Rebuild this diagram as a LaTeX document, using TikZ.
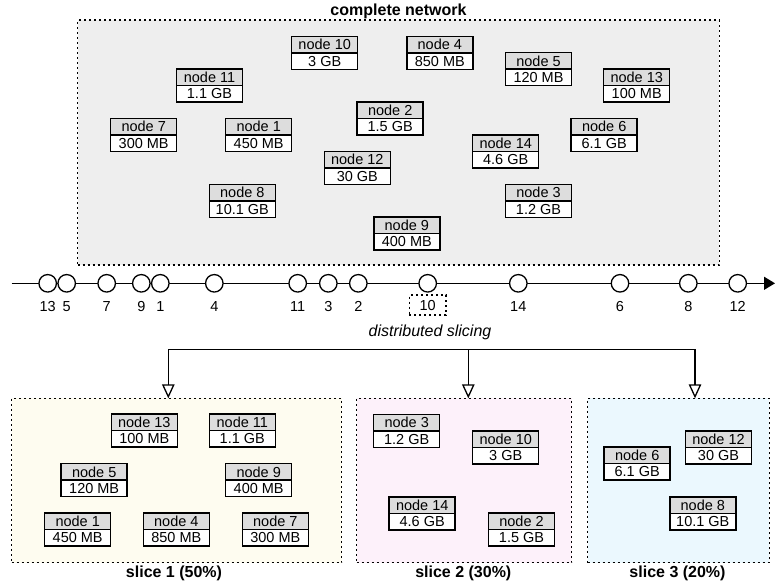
\documentclass[tikz,border=0pt]{standalone}
\usepackage{fontspec}
\setmainfont{Liberation Sans}
\usetikzlibrary{arrows.meta}
\definecolor{netfill}{HTML}{EEEEEE}
\definecolor{sonefill}{HTML}{FEFCF0}
\definecolor{stwofill}{HTML}{FDF1FA}
\definecolor{sthreefill}{HTML}{EBF8FE}
\definecolor{headfill}{HTML}{DDDDDD}
\tikzset{
  nhead/.style={draw, line width=1.5pt, fill=headfill, minimum width=66pt, minimum height=16.5pt, inner sep=0pt, outer sep=0pt, font=\fontsize{14.5}{15}\selectfont, anchor=south},
  nsize/.style={nhead, fill=white, anchor=north},
  region/.style={draw, line width=1.3pt, dash pattern=on 2pt off 3pt, inner sep=0pt, outer sep=0pt, anchor=north west},
  regionlbl/.style={font=\bfseries\fontsize{16}{18}\selectfont, inner sep=0pt},
  tcirc/.style={draw, circle, line width=1.3pt, fill=white, minimum size=17.5pt, inner sep=0pt},
  tnum/.style={font=\fontsize{14.5}{15}\selectfont, inner sep=0pt},
  conn/.style={line width=1.3pt},
  openarrow/.style={conn, -{Triangle[open, length=14pt, width=12.5pt]}},
}
\newcommand\netbox[5]{\node[nhead] (#1) at (#2,#3) {#4}; \node[nsize] (#1s) at (#2,#3) {#5};}
\begin{document}
\begin{tikzpicture}[x=1pt, y=-1pt]
\useasboundingbox (0,0) rectangle (775,587);
% regions
\node[region, fill=netfill, minimum width=641.6pt, minimum height=245pt] (net) at (77.7,20) {};
\node[regionlbl] (netlbl) at (398.5,11) {complete network};
\node[region, fill=sonefill, minimum width=330pt, minimum height=164.4pt] (s1) at (11.7,398.3) {};
\node[region, fill=stwofill, minimum width=215pt, minimum height=164.4pt] (s2) at (356.7,398.3) {};
\node[region, fill=sthreefill, minimum width=181.6pt, minimum height=164.4pt] (s3) at (587.7,398.3) {};
\node[regionlbl] (s1lbl) at (174,573) {slice 1 (50\%)};
\node[regionlbl] (s2lbl) at (463.3,573) {slice 2 (30\%)};
\node[regionlbl] (s3lbl) at (677.5,573) {slice 3 (20\%)};
% complete network nodes
\netbox{net10}{324.7}{52.8}{node 10}{3 GB}
\netbox{net11}{209.5}{85.7}{node 11}{1.1 GB}
\netbox{net7}{143.7}{135}{node 7}{300 MB}
\netbox{net1}{258.7}{135}{node 1}{450 MB}
\netbox{net12}{357.3}{168}{node 12}{30 GB}
\netbox{net8}{242.3}{200.8}{node 8}{10.1 GB}
\netbox{net9}{406.8}{233.7}{node 9}{400 MB}
\netbox{net2}{390.2}{118.5}{node 2}{1.5 GB}
\netbox{net4}{439.8}{52.8}{node 4}{850 MB}
\netbox{net5}{538.5}{69.2}{node 5}{120 MB}
\netbox{net13}{636.7}{85.7}{node 13}{100 MB}
\netbox{net6}{604.2}{135}{node 6}{6.1 GB}
\netbox{net14}{505.7}{151.5}{node 14}{4.6 GB}
\netbox{net3}{538.5}{200.8}{node 3}{1.2 GB}
% timeline
\coordinate (tlstart) at (11.7,283.3);
\coordinate (tlend) at (775,283.3);
\draw[conn, -{Triangle[length=11pt, width=13pt]}] (tlstart) -- (tlend);
\foreach \n/\x in {13/47.7, 5/66.7, 7/106.7, 9/141.3, 1/160.3, 4/214.3, 11/297.7, 3/328.3, 2/358.3, 14/518.3, 6/620, 8/688.3, 12/737.7} {
  \node[tcirc] (t\n) at (\x,283.3) {};
  \node[tnum] (tl\n) at (\x,306.7) {\n};
}
\node[tcirc] (t10) at (427.7,283.3) {};
\node[tnum, draw, line width=1.3pt, dash pattern=on 2pt off 3pt, minimum width=36.7pt, minimum height=20pt] (tl10) at (427.7,305) {10};
\node[font=\itshape\fontsize{16}{18}\selectfont, inner sep=0pt] (ds) at (430,332.7) {distributed slicing};
% bracket
\coordinate (b1) at (168.3,349.3);
\coordinate (b2) at (468.3,349.3);
\coordinate (b3) at (695,349.3);
\draw[conn] (b1) -- (b3);
\draw[openarrow] (b1) -- (b1 |- s1.north);
\draw[openarrow] (b2) -- (b2 |- s2.north);
\draw[openarrow] (b3) -- (b3 |- s3.north);
% slice 1
\netbox{sa13}{144.3}{430.3}{node 13}{100 MB}
\netbox{sa11}{242.3}{430.3}{node 11}{1.1 GB}
\netbox{sa5}{94.2}{480.2}{node 5}{120 MB}
\netbox{sa9}{258.7}{480.2}{node 9}{400 MB}
\netbox{sa1}{77.7}{529.7}{node 1}{450 MB}
\netbox{sa4}{176.3}{529.7}{node 4}{850 MB}
\netbox{sa7}{275.3}{529.7}{node 7}{300 MB}
% slice 2
\netbox{sb3}{406.7}{431}{node 3}{1.2 GB}
\netbox{sb10}{505.7}{447.5}{node 10}{3 GB}
\netbox{sb14}{422.2}{513.3}{node 14}{4.6 GB}
\netbox{sb2}{521.5}{529.7}{node 2}{1.5 GB}
% slice 3
\netbox{sc6}{637.2}{463.7}{node 6}{6.1 GB}
\netbox{sc12}{718.5}{447.5}{node 12}{30 GB}
\netbox{sc8}{702.8}{513.3}{node 8}{10.1 GB}
\end{tikzpicture}
\end{document}
